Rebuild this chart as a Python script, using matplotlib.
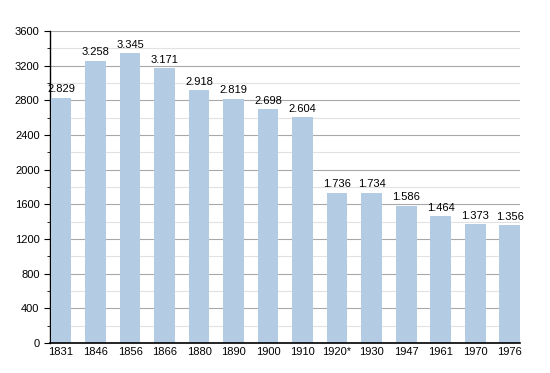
import matplotlib
matplotlib.use("Agg")
import matplotlib.pyplot as plt
from matplotlib.ticker import MultipleLocator

plt.rcParams['font.family'] = ['Liberation Sans', 'DejaVu Sans']

years = ["1831", "1846", "1856", "1866", "1880", "1890", "1900", "1910", "1920*", "1930", "1947", "1961", "1970", "1976"]
population = [2829, 3258, 3345, 3171, 2918, 2819, 2698, 2604, 1736, 1734, 1586, 1464, 1373, 1356]

fig = plt.figure(figsize=(5.5, 3.73), dpi=100)
ax = fig.add_axes([0.0909, 0.0804, 0.854, 0.8366])
x = list(range(len(years)))
ax.bar(x, population, width=0.6, color="#b3cce4", zorder=3)
for xi, v in zip(x, population):
    lbl = f"{v:,}".replace(",", ".")
    ax.text(xi, v + 40, lbl, ha="center", va="bottom", fontsize=8, color="black", zorder=4)

ax.set_xlim(-0.32, 13.29)
ax.set_ylim(0, 3600)
ax.yaxis.set_major_locator(MultipleLocator(400))
ax.yaxis.set_minor_locator(MultipleLocator(200))
ax.grid(axis="y", which="major", color="#a8a8a8", linewidth=0.8, zorder=0)
ax.grid(axis="y", which="minor", color="#e2e2e2", linewidth=0.8, zorder=0)
ax.set_xticks(x)
ax.set_xticklabels(years)
ax.tick_params(axis="x", length=0, labelsize=8, pad=3)
ax.tick_params(axis="y", which="major", length=4, labelsize=8, direction="out")
ax.tick_params(axis="y", which="minor", length=2, direction="out")
for s in ["top", "right"]:
    ax.spines[s].set_visible(False)
ax.spines["left"].set_linewidth(1.0)
ax.spines["bottom"].set_linewidth(1.2)
ax.spines["bottom"].set_zorder(5)
fig.savefig("out.png", dpi=100)
